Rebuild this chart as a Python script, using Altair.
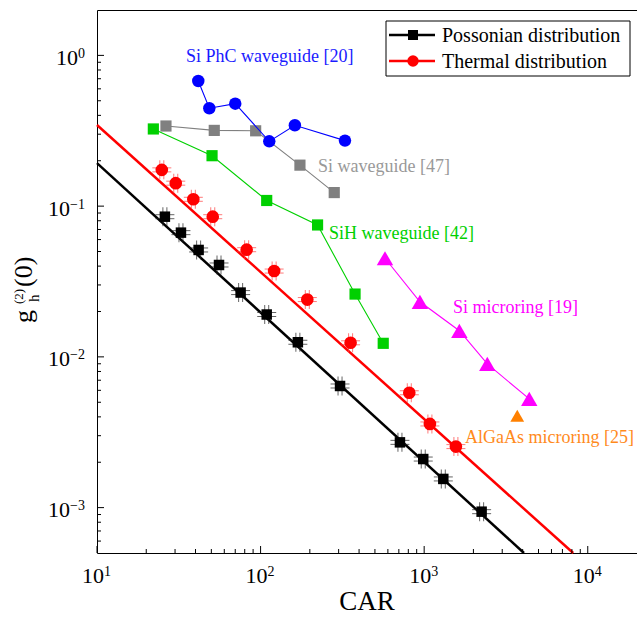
import altair as alt
import pandas as pd

# ---------------- data ----------------
poisson_car = [26.0, 32.6, 41.8, 55.7, 75.5, 109, 169, 306, 711, 987, 1309, 2245]
poisson_g2 = [0.0851, 0.0667, 0.0512, 0.0407, 0.0267, 0.0191, 0.0125, 0.00641,
              0.00271, 0.00210, 0.00155, 0.00094]
thermal_car = [24.9, 30.3, 38.8, 51.0, 82.2, 121, 193, 355, 811, 1084, 1563]
thermal_g2 = [0.174, 0.142, 0.111, 0.0851, 0.0514, 0.0371, 0.0240, 0.0124,
              0.00578, 0.00359, 0.00254]
poisson_fit_car = [10, 4074]
poisson_fit_g2 = [0.193, 0.0005]
thermal_fit_car = [10, 8147]
thermal_fit_g2 = [0.345, 0.0005]

si_phc_car = [41.6, 48.6, 70.0, 113, 162, 328]
si_phc_g2 = [0.676, 0.446, 0.478, 0.269, 0.344, 0.272]
si_wg_car = [26.4, 52.1, 93.3, 174, 282]
si_wg_g2 = [0.340, 0.318, 0.316, 0.187, 0.123]
sih_wg_car = [22.1, 50.5, 109, 223, 378, 562]
sih_wg_g2 = [0.325, 0.216, 0.109, 0.0750, 0.0261, 0.0123]
si_ring_car = [576, 942, 1641, 2432, 4390]
si_ring_g2 = [0.0451, 0.0232, 0.0149, 0.00898, 0.00526]
algaas_car = [3707]
algaas_g2 = [0.00407]

x_major = [10, 100, 1000, 10000]
x_major_exp = ["1", "2", "3", "4"]
x_minor = [20, 30, 40, 50, 60, 70, 80, 90, 200, 300, 400, 500, 600, 700, 800, 900,
           2000, 3000, 4000, 5000, 6000, 7000, 8000, 9000]
y_major = [1, 0.1, 0.01, 0.001]
y_major_exp = ["0", "\u22121", "\u22122", "\u22123"]
y_minor = [0.9, 0.8, 0.7, 0.6, 0.5, 0.4, 0.3, 0.2,
           0.09, 0.08, 0.07, 0.06, 0.05, 0.04, 0.03, 0.02,
           0.009, 0.008, 0.007, 0.006, 0.005, 0.004, 0.003, 0.002,
           0.0009, 0.0008, 0.0007, 0.0006]

legend_labels = ["Possonian distribution", "Thermal distribution"]
annotations = ["Si PhC waveguide [20]", "Si waveguide [47]", "SiH waveguide [42]",
               "Si microring [19]", "AlGaAs microring [25]"]

# ---------------- style ----------------
FONT = "Liberation Serif"
W, H = 540, 543
BLUE, GRAY, GREEN, MAGENTA, ORANGE, RED = "#0000ff", "#808080", "#00d000", "#ff00ff", "#ff8000", "#ff0000"


def df(xs, ys):
    return pd.DataFrame({"x": xs, "y": ys})


one = pd.DataFrame({"a": [0]})
xs = alt.Scale(type="log", domain=[10, 20000], nice=False)
ys = alt.Scale(type="log", domain=[0.0005, 2], nice=False)
X = alt.X("x:Q", scale=xs, axis=None)
Y = alt.Y("y:Q", scale=ys, axis=None)

layers = []

# fit lines
layers.append(alt.Chart(df(poisson_fit_car, poisson_fit_g2)).mark_line(color="black", strokeWidth=2.5).encode(X, Y))
layers.append(alt.Chart(df(thermal_fit_car, thermal_fit_g2)).mark_line(color=RED, strokeWidth=2.5).encode(X, Y))

# literature series
series = [
    (si_wg_car, si_wg_g2, GRAY, "square", 125),
    (sih_wg_car, sih_wg_g2, GREEN, "square", 125),
    (si_phc_car, si_phc_g2, BLUE, "circle", 155),
    (si_ring_car, si_ring_g2, MAGENTA, "triangle-up", 270),
]
for cx, cy, col, shp, sz in series:
    d = df(cx, cy)
    layers.append(alt.Chart(d).mark_line(color=col, strokeWidth=1.1).encode(X, Y))
    layers.append(alt.Chart(d).mark_point(color=col, filled=True, opacity=1, shape=shp, size=sz).encode(X, Y))
layers.append(alt.Chart(df(algaas_car, algaas_g2)).mark_point(color=ORANGE, filled=True, opacity=1,
                                                             shape="triangle-up", size=190).encode(X, Y))

# measured points with error caps
for cx, cy, col, capcol, shp, sz in [
    (poisson_car, poisson_g2, "black", "#222222", "square", 110),
    (thermal_car, thermal_g2, RED, "#ff4040", "circle", 160),
]:
    d = df(cx, cy)
    for off in (-2, 2):
        layers.append(alt.Chart(d).mark_tick(orient="horizontal", size=19, thickness=1, color=capcol,
                                             yOffset=off).encode(X, Y))
        layers.append(alt.Chart(d).mark_tick(orient="vertical", size=19, thickness=1, color=capcol,
                                             xOffset=off).encode(X, Y))
    layers.append(alt.Chart(d).mark_point(color=col, filled=True, opacity=1, shape=shp, size=sz).encode(X, Y))

# axis ticks (inward)
layers.append(alt.Chart(pd.DataFrame({"x": x_major})).mark_rule(color="black", strokeWidth=1).encode(
    X, y=alt.value(H), y2=alt.value(H - 7)))
layers.append(alt.Chart(pd.DataFrame({"x": x_minor})).mark_rule(color="black", strokeWidth=1).encode(
    X, y=alt.value(H), y2=alt.value(H - 4)))
layers.append(alt.Chart(pd.DataFrame({"y": y_major})).mark_rule(color="black", strokeWidth=1).encode(
    Y, x=alt.value(0), x2=alt.value(7)))
layers.append(alt.Chart(pd.DataFrame({"y": y_minor})).mark_rule(color="black", strokeWidth=1).encode(
    Y, x=alt.value(0), x2=alt.value(4)))

# x tick labels
xl = pd.DataFrame({"x": x_major, "e": x_major_exp})
layers.append(alt.Chart(xl).mark_text(text="10", align="right", baseline="alphabetic", font=FONT,
                                      fontSize=22, dx=7, color="black").encode(X, y=alt.value(H + 30)))
layers.append(alt.Chart(xl).mark_text(align="left", baseline="alphabetic", font=FONT,
                                      fontSize=14, dx=7, color="black").encode(X, y=alt.value(H + 23),
                                                                              text="e:N"))
# y tick labels
yl = pd.DataFrame({"y": y_major, "e": y_major_exp})
yl_top = yl[yl["y"] == 1]
yl_rest = yl[yl["y"] < 1]
for part, endx in ((yl_top, -19), (yl_rest, -27)):
    layers.append(alt.Chart(part).mark_text(text="10", align="right", baseline="alphabetic", font=FONT,
                                            fontSize=22, dy=9.5, color="black").encode(Y, x=alt.value(endx)))
    layers.append(alt.Chart(part).mark_text(align="left", baseline="alphabetic", font=FONT,
                                            fontSize=14, dy=2.5, color="black").encode(Y, x=alt.value(endx),
                                                                                      text="e:N"))

# axis titles
layers.append(alt.Chart(one).mark_text(text="CAR", align="center", baseline="alphabetic", font=FONT,
                                       fontSize=27, color="black").encode(x=alt.value(W / 2), y=alt.value(600)))
for txt, px, py, fs in (("g", -65, 313, 26), ("h", -58, 292, 15), ("(2)", -74, 294, 13), ("(0)", -65, 277, 26)):
    layers.append(alt.Chart(one).mark_text(text=txt, angle=270, align="left", baseline="alphabetic",
                                           font=FONT, fontSize=fs, color="black").encode(
        x=alt.value(px), y=alt.value(py)))

# annotations
ann_pos = [(89, 52, "#1a1aff"), (221, 162, "#999999"), (232, 229, GREEN), (356, 303, MAGENTA), (368, 433, "#ff8a1c")]
for txt, (px, py, col) in zip(annotations, ann_pos):
    layers.append(alt.Chart(one).mark_text(text=txt, align="left", baseline="alphabetic", font=FONT,
                                           fontSize=18, color=col).encode(x=alt.value(px), y=alt.value(py)))

# legend
layers.append(alt.Chart(one).mark_rect(fill="white", stroke="black", strokeWidth=1).encode(
    x=alt.value(289), x2=alt.value(533), y=alt.value(11), y2=alt.value(66)))
for lab, ly, col, shp, sz in ((legend_labels[0], 25, "black", "square", 100),
                              (legend_labels[1], 51, RED, "circle", 130)):
    layers.append(alt.Chart(one).mark_rule(color=col, strokeWidth=2.5).encode(
        x=alt.value(292), x2=alt.value(338), y=alt.value(ly)))
    layers.append(alt.Chart(one).mark_point(color=col, filled=True, opacity=1, shape=shp, size=sz).encode(
        x=alt.value(316), y=alt.value(ly)))
    layers.append(alt.Chart(one).mark_text(text=lab, align="left", baseline="alphabetic", font=FONT,
                                           fontSize=20, color="black").encode(x=alt.value(345), y=alt.value(ly + 7)))

chart = alt.layer(*layers).properties(
    width=W, height=H,
    padding={"left": 97, "top": 10, "right": 0, "bottom": 64},
    autosize=alt.AutoSizeParams(type="none"),
).configure_view(stroke="black", strokeWidth=1)

chart.save("out.html", embed_options={"renderer": "svg", "actions": False})
